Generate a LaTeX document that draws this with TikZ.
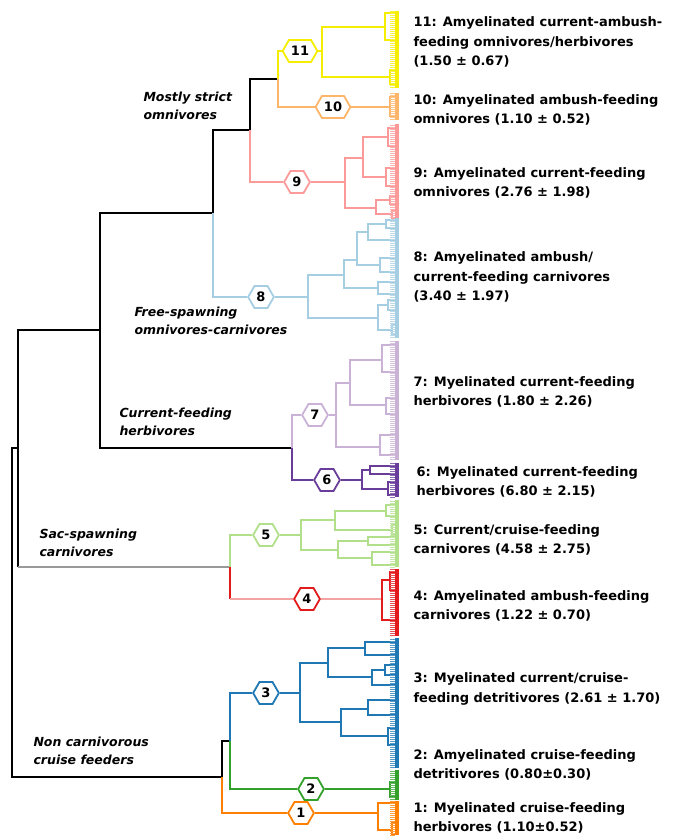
\documentclass[tikz,border=0pt]{standalone}
\usepackage{fontspec}
\setmainfont{DejaVu Sans}
\usetikzlibrary{shapes.symbols}

\definecolor{cyel}{HTML}{F5EE00}
\definecolor{corl}{HTML}{FDB56A}
\definecolor{csal}{HTML}{FB9A99}
\definecolor{cltb}{HTML}{A6CEE3}
\definecolor{clav}{HTML}{CAB2D6}
\definecolor{cpur}{HTML}{6A3D9A}
\definecolor{cltg}{HTML}{B2DF8A}
\definecolor{cred}{HTML}{E31A1C}
\definecolor{cpnk}{HTML}{F4A3A3}
\definecolor{cblu}{HTML}{1F78B4}
\definecolor{cgrn}{HTML}{33A02C}
\definecolor{corg}{HTML}{FF7F00}

\tikzset{
  br/.style={line width=2.2pt},
  leaf/.style={line width=1pt},
  hexa/.style={draw=#1,fill=white,text=black,line width=1.8pt,signal,signal to=west and east,
    signal pointer angle=120,inner xsep=2pt,inner ysep=3pt,minimum height=22pt,
    font=\fontsize{13}{13}\selectfont\bfseries},
  grp/.style={anchor=west,align=left,font=\fontsize{12.5}{17.5}\selectfont\bfseries\itshape},
  lab/.style={anchor=west,align=left,font=\fontsize{13}{19.5}\selectfont\bfseries},
}

% one cluster: colour, bracket list x/top/bottom/top end/bottom end, leaf range
\newcommand\clade[4]{%
  \foreach \x/\a/\b/\p/\q in {#2}{\draw[br,#1] (\p,\a) -- (\x,\a) -- (\x,\b) -- (\q,\b);}
  \fill[#1] (395,#3) rectangle (399,#4);
  \foreach \y in {#3,...,#4}{\ifodd\y\relax \draw[leaf,#1!75] (390,\y) -- (395,\y);\fi}
}

\begin{document}
\begin{tikzpicture}[x=1pt,y=-1pt]
\useasboundingbox (0,0) rectangle (686,836);

% junctions of the tree
\coordinate (jA) at (278,79);
\coordinate (jB) at (250,130);
\coordinate (jC) at (213,213);
\coordinate (jD) at (100,330);
\coordinate (jE) at (292,448);
\coordinate (jF) at (18,448);
\coordinate (jG) at (230,567);
\coordinate (jH) at (230,741);
\coordinate (jI) at (222,777);

% cluster roots
\coordinate (k11) at (322,51);
\coordinate (k10) at (390,107);
\coordinate (k9) at (345,182);
\coordinate (k8) at (308,297);
\coordinate (k7) at (336,415);
\coordinate (k6) at (362,480);
\coordinate (k5) at (301,535);
\coordinate (k4) at (382,599);
\coordinate (k3) at (300,693);
\coordinate (k2) at (390,789);
\coordinate (k1) at (378,813);

% numbered badges
\node[hexa=cyel] (h11) at (300,51) {11};
\node[hexa=corl] (h10) at (333,107) {10};
\node[hexa=csal] (h9) at (297,182) {9};
\node[hexa=cltb] (h8) at (261,297) {8};
\node[hexa=clav] (h7) at (315,415) {7};
\node[hexa=cpur] (h6) at (327,480) {6};
\node[hexa=cltg] (h5) at (266,535) {5};
\node[hexa=cred] (h4) at (307,599) {4};
\node[hexa=cblu] (h3) at (266,693) {3};
\node[hexa=cgrn] (h2) at (311,789) {2};
\node[hexa=corg] (h1) at (301,813) {1};

% black backbone
\draw[br] (jF) -- ++(-6,0) |- (jI);
\draw[br] (jF) |- (jD);
\draw[br] (jF) -- (jF |- jG);
\draw[line width=1.4pt,gray!80] (jF |- jG) -- (jG);
\draw[br] (jD) |- (jC);
\draw[br] (jD) |- (jE);
\draw[br] (jC) |- (jB);
\draw[br] (jB) |- (jA);
\draw[br] (jI) |- (jH);

% branches to the clusters
\draw[br,cyel] (jA) |- (h11.west) (h11.east) -- (k11);
\draw[br,corl] (jA) |- (h10.west) (h10.east) -- (k10);
\draw[br,csal] (jB) |- (h9.west) (h9.east) -- (k9);
\draw[br,cltb] (jC) |- (h8.west) (h8.east) -- (k8);
\draw[br,clav] (jE) |- (h7.west) (h7.east) -- (k7);
\draw[br,cpur] (jE) |- (h6.west) (h6.east) -- (k6);
\draw[br,cltg] (jG) |- (h5.west) (h5.east) -- (k5);
\draw[br,cred] (jG) -- (jG |- h4);
\draw[br,cpnk] (jG |- h4) -- (h4.west) (h4.east) -- (k4);
\draw[br,cblu] (jH) |- (h3.west) (h3.east) -- (k3);
\draw[br,cgrn] (jH) |- (h2.west) (h2.east) -- (k2);
\draw[br,corg] (jI) |- (h1.west) (h1.east) -- (k1);

% sub-trees
\clade{cyel}{322/27/77/385/390, 385/13/40/398/398, 390/70/84/398/398}{11}{88}
\clade{corl}{390/97/116/398/398}{93}{120}
\clade{csal}{345/158/208/363/376, 363/137/177/388/386, 388/128/146/398/398,
  386/168/186/398/398, 376/200/214/390/392, 390/196/204/398/398, 392/210/218/398/398}{124}{222}
\clade{cltb}{308/275/318/344/378, 344/260/288/357/378, 357/232/265/368/380,
  368/224/240/386/398, 386/220/228/398/398, 380/258/272/398/398, 378/282/294/398/398,
  378/305/330/388/392, 388/300/310/398/398, 392/325/335/398/398}{218}{338}
\clade{clav}{336/383/447/350/380, 350/360/405/382/386, 382/345/372/398/398,
  386/398/414/398/398, 380/435/455/398/398}{341}{460}
\clade{cpur}{362/470/489/370/388, 370/466/474/398/398, 388/482/495/398/398}{463}{497}
\clade{cltg}{301/520/550/335/338, 335/511/530/386/392, 386/505/516/398/398,
  392/525/535/398/398, 338/541/558/368/372, 368/537/545/398/398, 372/552/565/398/398}{500}{567}
\clade{cred}{382/580/620/390/398, 390/572/590/398/398}{569}{636}
\clade{cblu}{300/663/722/328/341, 328/648/677/365/372, 365/642/655/398/398,
  372/670/685/385/398, 385/665/675/398/398, 341/709/736/368/388,
  368/700/715/398/398, 388/728/745/398/398}{638}{768}
\clade{cgrn}{390/782/797/398/398}{770}{800}
\clade{corg}{378/803/830/398/392, 392/822/834/398/398}{801}{835}

% group names
\node[grp] (gMostly) at (140,106) {Mostly strict\\omnivores};
\node[grp] (gFree) at (131,321) {Free-spawning\\omnivores-carnivores};
\node[grp] (gCurr) at (116,422) {Current-feeding\\herbivores};
\node[grp] (gSac) at (36,543) {Sac-spawning\\carnivores};
\node[grp] (gNon) at (30,751) {Non carnivorous\\cruise feeders};

% cluster names
\node[lab] (l11) at (410,42) {11: Amyelinated current-ambush-\\feeding omnivores/herbivores\\(1.50 ± 0.67)};
\node[lab] (l10) at (410,110) {10: Amyelinated ambush-feeding\\omnivores (1.10 ± 0.52)};
\node[lab] (l9) at (410,183) {9: Amyelinated current-feeding\\omnivores (2.76 ± 1.98)};
\node[lab] (l8) at (410,277) {8: Amyelinated ambush/\\current-feeding carnivores\\(3.40 ± 1.97)};
\node[lab] (l7) at (410,392) {7: Myelinated current-feeding\\herbivores (1.80 ± 2.26)};
\node[lab] (l6) at (413,482) {6: Myelinated current-feeding\\herbivores (6.80 ± 2.15)};
\node[lab] (l5) at (410,540) {5: Current/cruise-feeding\\carnivores (4.58 ± 2.75)};
\node[lab] (l4) at (410,606) {4: Amyelinated ambush-feeding\\carnivores (1.22 ± 0.70)};
\node[lab] (l3) at (410,689) {3: Myelinated current/cruise-\\feeding detritivores (2.61 ± 1.70)};
\node[lab] (l2) at (410,765) {2: Amyelinated cruise-feeding\\detritivores (0.80±0.30)};
\node[lab] (l1) at (410,818) {1: Myelinated cruise-feeding\\herbivores (1.10±0.52)};
\end{tikzpicture}
\end{document}
